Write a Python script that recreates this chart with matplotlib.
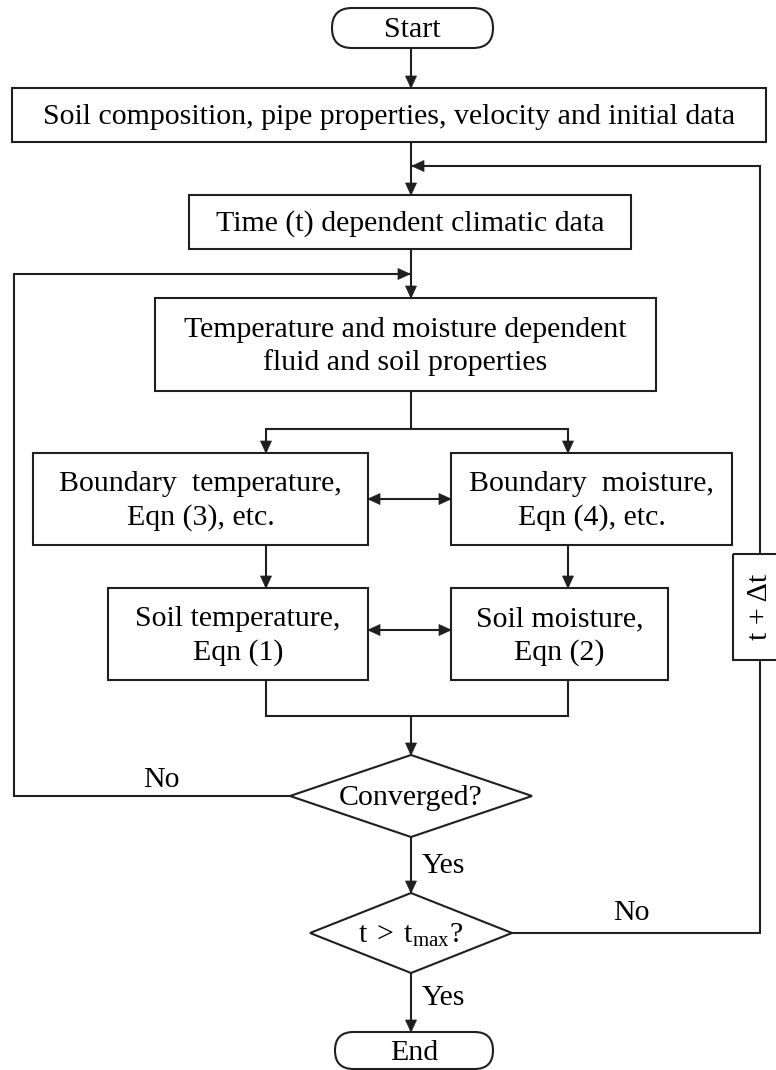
import matplotlib
matplotlib.use('Agg')
import matplotlib.pyplot as plt
from matplotlib.patches import Rectangle, Polygon, FancyBboxPatch

plt.rcParams['font.family'] = ['Liberation Serif', 'DejaVu Serif']
plt.rcParams['mathtext.fontset'] = 'stix'

# texts of the flowchart
terminals = ['Start', 'End']
process_labels = ['Soil composition, pipe properties, velocity and initial data',
                  'Time (t) dependent climatic data',
                  'Temperature and moisture dependent\nfluid and soil properties',
                  'Boundary  temperature,\nEqn (3), etc.',
                  'Boundary  moisture,\nEqn (4), etc.',
                  'Soil temperature,\nEqn (1)',
                  'Soil moisture,\nEqn (2)']
decision_labels = ['Converged?', r'$\mathregular{t\;>\;t_{max}?}$']
branch_labels = ['No', 'Yes', 'No', 'Yes']
step_label = 't + Δt'

LC = '#1f1f1f'
LW = 1.5
FS = 21.5
DY = 2   # small downward nudge so text sits centred like the original

fig = plt.figure(figsize=(7.76, 10.70), dpi=100)
ax = fig.add_axes([0, 0, 1, 1])
ax.set_xlim(0, 776)
ax.set_ylim(1070, 0)
ax.axis('off')


def box(x0, y0, x1, y1, text):
    ax.add_patch(Rectangle((x0, y0), x1 - x0, y1 - y0, fill=False, ec=LC, lw=LW))
    ax.text((x0 + x1) / 2, (y0 + y1) / 2 + DY, text, ha='center', va='center',
            fontsize=FS, linespacing=1.3)


def pill(x0, y0, x1, y1, text):
    h = y1 - y0
    ax.add_patch(FancyBboxPatch((x0, y0), x1 - x0, h, fill=False, ec=LC, lw=LW,
                                boxstyle='round,pad=0,rounding_size=%g' % (h / 2)))
    ax.text((x0 + x1) / 2, (y0 + y1) / 2 + DY, text, ha='center', va='center', fontsize=FS)


def diamond(cx, cy, w, h, text):
    ax.add_patch(Polygon([(cx - w, cy), (cx, cy - h), (cx + w, cy), (cx, cy + h)],
                         closed=True, fill=False, ec=LC, lw=LW))
    ax.text(cx, cy + DY, text, ha='center', va='center', fontsize=FS)


def head(p, q):
    # filled arrow head with tip at q, coming from p
    dx, dy = q[0] - p[0], q[1] - p[1]
    n = (dx ** 2 + dy ** 2) ** 0.5
    ux, uy = dx / n, dy / n
    L, W = 12, 5.5
    bx, by = q[0] - L * ux, q[1] - L * uy
    ax.add_patch(Polygon([q, (bx - W * uy, by + W * ux), (bx + W * uy, by - W * ux)],
                         closed=True, fc=LC, ec=LC, lw=0.5))


def line(pts, end=True, start=False):
    xs = [p[0] for p in pts]
    ys = [p[1] for p in pts]
    ax.plot(xs, ys, color=LC, lw=LW, solid_capstyle='butt', solid_joinstyle='miter')
    if end:
        head(pts[-2], pts[-1])
    if start:
        head(pts[1], pts[0])


MX = 411   # main column
LX = 266   # left column
RX = 568   # right column

pill(332, 8, 493, 48, terminals[0])
box(12, 88, 766, 142, process_labels[0])
box(189, 195, 631, 249, process_labels[1])
box(155, 298, 656, 391, process_labels[2])
box(33, 453, 368, 545, process_labels[3])
box(451, 453, 732, 545, process_labels[4])
box(108, 588, 368, 680, process_labels[5])
box(451, 588, 668, 680, process_labels[6])
diamond(MX, 796, 121, 41, decision_labels[0])
diamond(MX, 933, 101, 40, decision_labels[1])
pill(335, 1032, 493, 1069, terminals[1])

# time step box on the right, cut by the edge
ax.add_patch(Rectangle((733, 554), 54, 106, fill=False, ec=LC, lw=LW))
ax.text(760, 607, step_label, ha='center', va='center', fontsize=FS, rotation=90)

# connectors
line([(MX, 48), (MX, 88)])
line([(MX, 142), (MX, 195)])
line([(760, 554), (760, 166), (MX + 1, 166)])
line([(MX, 249), (MX, 298)])
line([(MX - 121, 796), (14, 796), (14, 274), (MX - 1, 274)])
line([(MX, 391), (MX, 429)], end=False)
line([(LX, 453), (LX, 429), (RX, 429), (RX, 453)], start=True)
line([(LX, 545), (LX, 588)])
line([(RX, 545), (RX, 588)])
line([(368, 499), (451, 499)], start=True)
line([(368, 630), (451, 630)], start=True)
line([(LX, 680), (LX, 716), (RX, 716), (RX, 680)], end=False)
line([(MX, 716), (MX, 755)])
line([(MX, 837), (MX, 893)])
line([(MX + 101, 933), (760, 933), (760, 660)], end=False)
line([(MX, 973), (MX, 1032)])

ax.text(161, 780, branch_labels[0], ha='center', va='center', fontsize=FS)
ax.text(422, 866, branch_labels[1], ha='left', va='center', fontsize=FS)
ax.text(631, 913, branch_labels[2], ha='center', va='center', fontsize=FS)
ax.text(422, 998, branch_labels[3], ha='left', va='center', fontsize=FS)

fig.savefig('out.png', dpi=100)
